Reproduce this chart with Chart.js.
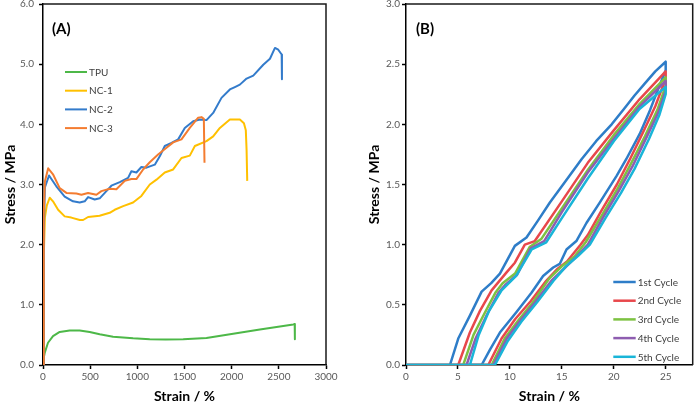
<!DOCTYPE html>
<html><head><meta charset="utf-8">
<script src="https://cdn.jsdelivr.net/npm/chart.js@4.4.1/dist/chart.umd.min.js"></script>
<style>
html,body{margin:0;padding:0;background:#fff;}
#wrap{position:relative;width:694px;height:405px;overflow:hidden;}
#a{position:absolute;left:0;top:0;}
#b{position:absolute;left:345px;top:0;}
</style></head><body>
<div id="wrap"><canvas id="a" width="345" height="405"></canvas><canvas id="b" width="349" height="405"></canvas></div>
<script>
// ---------- Panel A data ----------
const tpuStrain = [0, 5, 18, 53, 106, 177, 283, 389, 495, 601, 743, 955, 1132, 1300, 1486, 1733, 2016, 2299, 2547, 2653, 2668, 2670];
const tpuStress = [0, 0.1, 0.2, 0.37, 0.48, 0.55, 0.575, 0.575, 0.55, 0.51, 0.47, 0.443, 0.43, 0.425, 0.43, 0.45, 0.52, 0.59, 0.65, 0.675, 0.68, 0.43];
const nc1Strain = [0, 8, 20, 40, 71, 106, 160, 230, 300, 390, 425, 478, 600, 707, 760, 850, 955, 1043, 1132, 1203, 1291, 1380, 1468, 1556, 1610, 1733, 1804, 1875, 1981, 2087, 2130, 2150, 2158, 2165];
const nc1Stress = [0, 1.8, 2.45, 2.65, 2.78, 2.72, 2.58, 2.47, 2.45, 2.41, 2.41, 2.46, 2.48, 2.53, 2.58, 2.64, 2.70, 2.81, 3.0, 3.08, 3.2, 3.25, 3.44, 3.48, 3.64, 3.72, 3.8, 3.94, 4.08, 4.08, 4.02, 3.9, 3.58, 3.06];
const nc2Strain = [0, 8, 20, 64, 141, 230, 318, 389, 442, 478, 548, 601, 672, 725, 814, 902, 937, 990, 1043, 1097, 1185, 1238, 1291, 1362, 1433, 1503, 1592, 1663, 1733, 1804, 1892, 1981, 2034, 2087, 2158, 2229, 2335, 2406, 2459, 2494, 2530, 2533];
const nc2Stress = [0, 2.2, 2.95, 3.15, 2.97, 2.8, 2.72, 2.70, 2.72, 2.79, 2.75, 2.77, 2.89, 2.98, 3.04, 3.11, 3.22, 3.2, 3.29, 3.28, 3.33, 3.47, 3.64, 3.69, 3.75, 3.94, 4.05, 4.08, 4.07, 4.19, 4.44, 4.58, 4.62, 4.66, 4.76, 4.81, 4.99, 5.09, 5.27, 5.24, 5.16, 4.75];
const nc3Strain = [0, 8, 20, 55, 106, 177, 248, 354, 407, 478, 566, 619, 707, 778, 867, 937, 990, 1061, 1132, 1220, 1309, 1380, 1468, 1556, 1645, 1680, 1705, 1712];
const nc3Stress = [0, 2.5, 3.05, 3.27, 3.17, 2.94, 2.86, 2.85, 2.83, 2.86, 2.83, 2.89, 2.93, 2.92, 3.06, 3.09, 3.09, 3.25, 3.37, 3.5, 3.61, 3.7, 3.75, 3.94, 4.11, 4.12, 4.09, 3.36];
const seriesA = ['TPU', 'NC-1', 'NC-2', 'NC-3'];

// ---------- Panel B data ----------
const c1Strain = [0, 4.23, 5.03, 6.15, 7.28, 8.2, 9.04, 10.48, 11.6, 12.7, 13.85, 15.3, 16.9, 18.3, 19.8, 21.0, 22.0, 23.0, 24.0, 25.0, 25.0, 24.3, 23.5, 22.5, 21.2, 20.26, 18.65, 17.37, 16.4, 15.45, 14.8, 14.17, 13.2, 12.08, 10.64, 9.04, 8.1, 7.28, 0];
const c1Stress = [0, 0, 0.22, 0.41, 0.61, 0.68, 0.76, 0.99, 1.06, 1.2, 1.35, 1.52, 1.71, 1.86, 2.0, 2.13, 2.24, 2.34, 2.44, 2.52, 2.45, 2.3, 2.12, 1.92, 1.71, 1.57, 1.35, 1.18, 1.03, 0.96, 0.84, 0.81, 0.74, 0.60, 0.44, 0.27, 0.13, 0, 0];
const c2Strain = [0, 5.03, 6.15, 7.12, 8.24, 9.68, 10.48, 11.44, 12.4, 15, 17.5, 20, 22.5, 25, 25, 24, 22.8, 21.5, 20.3, 18.8, 17.5, 16.8, 15.5, 14.6, 13.5, 12, 10.5, 9.2, 7.92, 0];
const c2Stress = [0, 0, 0.27, 0.45, 0.62, 0.77, 0.85, 1.0, 1.03, 1.36, 1.68, 1.95, 2.21, 2.44, 2.38, 2.15, 1.93, 1.7, 1.5, 1.28, 1.08, 1.0, 0.86, 0.8, 0.7, 0.53, 0.38, 0.22, 0, 0];
const c3Strain = [0, 5.51, 6.5, 7.5, 8.6, 9.3, 10.5, 11.9, 13.05, 15, 17.5, 20, 22.5, 25, 25, 24.2, 23, 21.7, 20.4, 18.9, 17.3, 16.2, 15, 13.8, 12.2, 10.8, 9.5, 8.24, 0];
const c3Stress = [0, 0, 0.25, 0.42, 0.6, 0.68, 0.76, 0.98, 1.05, 1.3, 1.62, 1.91, 2.17, 2.39, 2.32, 2.12, 1.9, 1.68, 1.47, 1.25, 1.02, 0.9, 0.82, 0.72, 0.52, 0.37, 0.22, 0, 0];
const c4Strain = [0, 5.83, 6.7, 7.8, 8.9, 9.6, 10.7, 12.0, 13.3, 15, 17.5, 20, 22.5, 25, 25, 24.3, 23.2, 21.8, 20.5, 19, 17.5, 16.4, 15.2, 14, 12.4, 11, 9.7, 8.4, 0];
const c4Stress = [0, 0, 0.22, 0.42, 0.6, 0.67, 0.75, 0.97, 1.03, 1.27, 1.6, 1.88, 2.15, 2.36, 2.28, 2.1, 1.9, 1.65, 1.45, 1.23, 1.0, 0.9, 0.8, 0.7, 0.52, 0.37, 0.22, 0, 0];
const c5Strain = [0, 6.15, 7.0, 8.0, 9.2, 10.6, 12.1, 13.5, 15, 17.5, 20, 22.5, 25, 25, 24.4, 23.4, 22, 20.7, 19.2, 17.7, 16.6, 15.4, 14.2, 12.6, 11.1, 9.8, 8.56, 0];
const c5Stress = [0, 0, 0.25, 0.45, 0.62, 0.74, 0.96, 1.02, 1.22, 1.55, 1.86, 2.13, 2.31, 2.25, 2.08, 1.88, 1.63, 1.43, 1.22, 1.0, 0.91, 0.82, 0.7, 0.52, 0.36, 0.2, 0, 0];
const seriesB = ['1st Cycle', '2nd Cycle', '3rd Cycle', '4th Cycle', '5th Cycle'];

const colorsA = ['#4DB848', '#FFC000', '#337BCB', '#F47C30'];
const colorsB = ['#2E7DC8', '#E8474B', '#7DC242', '#8E5DB0', '#19B5D8'];

function pts(xs, ys) { return xs.map((x, i) => ({x: x, y: ys[i]})); }

const FONT = 'Lato, "Open Sans", sans-serif';

const framePlugin = {
  id: 'frame',
  afterDatasetsDraw(chart, args, opts) {
    const {ctx, chartArea: ca} = chart;
    ctx.save();
    ctx.strokeStyle = '#1a1a1a';
    ctx.lineWidth = 1.5;
    ctx.beginPath();
    ctx.moveTo(ca.left, ca.top);
    ctx.lineTo(ca.right, ca.top);
    ctx.lineTo(ca.right, ca.bottom);
    ctx.stroke();
    // panel label
    ctx.fillStyle = '#000';
    ctx.font = 'bold 15px ' + FONT;
    ctx.textBaseline = 'middle';
    ctx.textAlign = 'left';
    ctx.fillText(opts.label, ca.left + opts.labelDx, ca.top + 25);
    // legend
    ctx.font = '10px ' + FONT;
    ctx.fillStyle = '#404040';
    opts.items.forEach((name, i) => {
      const y = ca.top + opts.ly + i * opts.lstep;
      ctx.strokeStyle = opts.colors[i];
      ctx.lineWidth = opts.lw;
      ctx.beginPath();
      ctx.moveTo(ca.left + opts.lx, y);
      ctx.lineTo(ca.left + opts.lx + opts.llen, y);
      ctx.stroke();
      ctx.fillText(name, ca.left + opts.lx + opts.llen + 2, y + 0.5);
    });
    ctx.restore();
  }
};

function makeOptions(c) {
  return {
    responsive: false,
    animation: false,
    devicePixelRatio: 1,
    layout: {padding: {left: 0, right: c.padRight, top: 4, bottom: 0}},
    plugins: {
      legend: {display: false},
      tooltip: {enabled: false},
      frame: c.frame
    },
    elements: {point: {radius: 0}, line: {tension: 0, borderJoinStyle: 'round', borderCapStyle: 'butt'}},
    scales: {
      x: {
        type: 'linear', min: 0, max: c.xMax,
        afterFit(s) { s.height = 40; },
        grid: {display: true, drawOnChartArea: false, drawTicks: true, tickLength: 4, tickColor: '#000', tickWidth: 1.5},
        border: {display: true, color: '#000', width: 1.5},
        ticks: {stepSize: c.xStep, includeBounds: false, color: '#595959', font: {family: FONT, size: 10}, padding: 2, maxRotation: 0, autoSkip: false, callback: v => String(v)},
        title: {display: true, text: 'Strain / %', color: '#000', font: {family: FONT, size: 14, weight: 'bold'}, padding: {top: 0, bottom: 0}}
      },
      y: {
        type: 'linear', min: 0, max: c.yMax,
        afterFit(s) { s.width = c.yWidth; s.paddingTop = 0; s.paddingBottom = 0; },
        grid: {display: true, drawOnChartArea: false, drawTicks: true, tickLength: 4, tickColor: '#000', tickWidth: 1.5},
        border: {display: true, color: '#000', width: 1.5},
        ticks: {stepSize: c.yStep, color: '#595959', font: {family: FONT, size: 10}, padding: c.yPad, callback: v => Number(v).toFixed(1)},
        title: {display: true, text: 'Stress / MPa', color: '#000', font: {family: FONT, size: 14, weight: 'bold'}, padding: {top: c.yTitlePad, bottom: 0}}
      }
    }
  };
}

const dataA = [pts(tpuStrain, tpuStress), pts(nc1Strain, nc1Stress), pts(nc2Strain, nc2Stress), pts(nc3Strain, nc3Stress)];
new Chart(document.getElementById('a'), {
  type: 'scatter',
  data: {
    datasets: dataA.map((d, i) => ({
      label: seriesA[i], data: d, showLine: true, borderColor: colorsA[i], backgroundColor: colorsA[i],
      borderWidth: 2, pointRadius: 0, order: seriesA.length - i
    }))
  },
  options: makeOptions({
    padRight: 19, xMax: 3000, xStep: 500, yMax: 6, yStep: 1, yWidth: 43, yPad: 5, yTitlePad: 1.6,
    frame: {label: '(A)', labelDx: 9, items: seriesA, colors: colorsA, lx: 22, llen: 22, ly: 68, lstep: 18.7, lw: 2}
  }),
  plugins: [framePlugin]
});

const dataB = [pts(c1Strain, c1Stress), pts(c2Strain, c2Stress), pts(c3Strain, c3Stress), pts(c4Strain, c4Stress), pts(c5Strain, c5Stress)];
new Chart(document.getElementById('b'), {
  type: 'scatter',
  data: {
    datasets: dataB.map((d, i) => ({
      label: seriesB[i], data: d, showLine: true, borderColor: colorsB[i], backgroundColor: colorsB[i],
      borderWidth: 2.5, pointRadius: 0, order: seriesB.length - i
    }))
  },
  options: makeOptions({
    padRight: 1.3, xMax: 27.6, xStep: 5, yMax: 3, yStep: 0.5, yWidth: 61, yPad: 2, yTitlePad: 20.6,
    frame: {label: '(B)', labelDx: 10, items: seriesB, colors: colorsB, lx: 207.3, llen: 22.4, ly: 278, lstep: 18.7, lw: 2.5}
  }),
  plugins: [framePlugin]
});
</script>
</body></html>
